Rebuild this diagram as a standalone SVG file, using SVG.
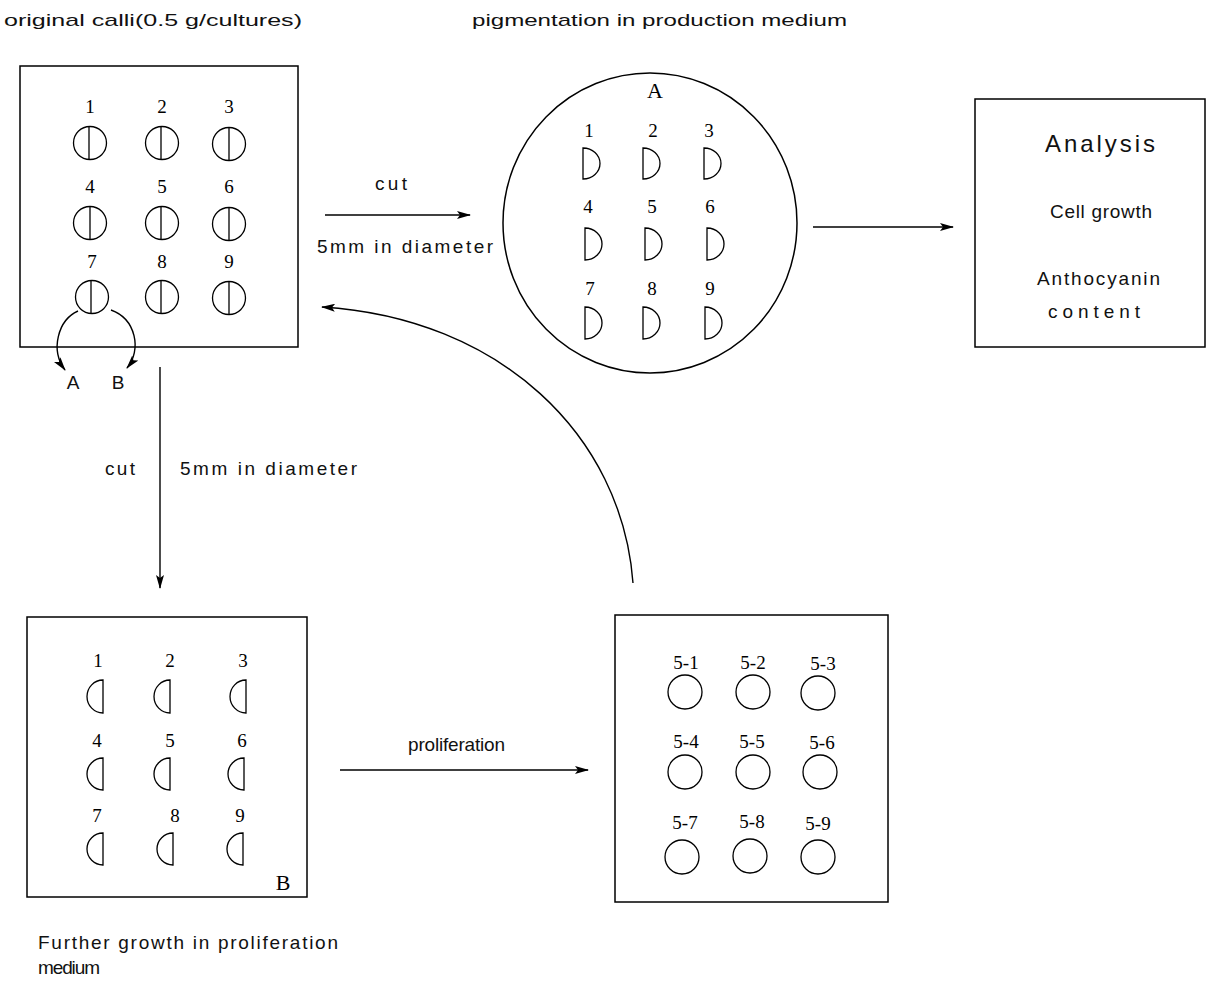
<svg xmlns="http://www.w3.org/2000/svg" width="1206" height="985" viewBox="0 0 1206 985">
<defs>
<marker id="ah" viewBox="0 0 14 8" refX="13" refY="4" markerWidth="14" markerHeight="8" markerUnits="userSpaceOnUse" orient="auto">
<path d="M0,0 L14,4 L0,8 L3,4 Z" fill="#000"/>
</marker>
<style>
.bx{fill:none;stroke:#000;stroke-width:1.5}
.ln{fill:none;stroke:#000;stroke-width:1.3}
.cn{fill:none;stroke:#000;stroke-width:1.4}
.num{font-family:"Liberation Serif",serif;font-size:19px;fill:#000;text-anchor:middle}
.big{font-family:"Liberation Serif",serif;font-size:22px;fill:#000;text-anchor:middle}
.lbl{font-family:"Liberation Sans","DejaVu Sans",sans-serif;font-size:19px;fill:#111}
.sm{font-family:"Liberation Sans","DejaVu Sans",sans-serif;font-size:17px;fill:#111}
.hd{font-family:"Liberation Sans","DejaVu Sans",sans-serif;font-size:24px;fill:#111}
</style>
</defs>
<rect width="1206" height="985" fill="#fff"/>

<text class="sm" x="4" y="26" textLength="298" lengthAdjust="spacingAndGlyphs">original  calli(0.5 g/cultures)</text>
<text class="sm" x="472" y="26" textLength="375" lengthAdjust="spacingAndGlyphs">pigmentation in production medium</text>

<g id="box-original">
<rect class="bx" x="20" y="66" width="278" height="281"/>
<text class="num" x="90" y="113">1</text><text class="num" x="162" y="113">2</text><text class="num" x="229" y="113">3</text>
<text class="num" x="90" y="193">4</text><text class="num" x="162" y="193">5</text><text class="num" x="229" y="193">6</text>
<text class="num" x="92" y="268">7</text><text class="num" x="162" y="268">8</text><text class="num" x="229" y="268">9</text>
<g class="ln">
<circle cx="90" cy="143" r="16.5"/><line x1="89" y1="126.5" x2="89" y2="159.5"/>
<circle cx="162" cy="143" r="16.5"/><line x1="161" y1="126.5" x2="161" y2="159.5"/>
<circle cx="229" cy="144" r="16.5"/><line x1="229" y1="127.5" x2="229" y2="160.5"/>
<circle cx="90" cy="223" r="16.5"/><line x1="90" y1="206.5" x2="90" y2="239.5"/>
<circle cx="162" cy="223" r="16.5"/><line x1="161" y1="206.5" x2="161" y2="239.5"/>
<circle cx="229" cy="224" r="16.5"/><line x1="229" y1="207.5" x2="229" y2="240.5"/>
<circle cx="92" cy="297" r="16.5"/><line x1="91" y1="280.5" x2="91" y2="313.5"/>
<circle cx="162" cy="297" r="16.5"/><line x1="161" y1="280.5" x2="161" y2="313.5"/>
<circle cx="229" cy="298" r="16.5"/><line x1="229" y1="281.5" x2="229" y2="314.5"/>
</g>
<text class="lbl" x="73" y="389" text-anchor="middle">A</text>
<text class="lbl" x="118" y="389" text-anchor="middle">B</text>
</g>

<g id="dish-A">
<ellipse class="bx" cx="650" cy="223" rx="147" ry="150"/>
<text class="big" x="655" y="98">A</text>
<text class="num" x="589" y="137">1</text><text class="num" x="653" y="137">2</text><text class="num" x="709" y="137">3</text>
<text class="num" x="588" y="213">4</text><text class="num" x="652" y="213">5</text><text class="num" x="710" y="213">6</text>
<text class="num" x="590" y="295">7</text><text class="num" x="652" y="295">8</text><text class="num" x="710" y="295">9</text>
<g class="ln">
<path d="M583,148 L583,179 A17,15.5 0 0 0 583,148 Z"/>
<path d="M643,148 L643,179 A17,15.5 0 0 0 643,148 Z"/>
<path d="M704,148 L704,179 A17,15.5 0 0 0 704,148 Z"/>
<path d="M585,228 L585,260 A17,16 0 0 0 585,228 Z"/>
<path d="M645,228 L645,260 A17,16 0 0 0 645,228 Z"/>
<path d="M707,228 L707,260 A17,16 0 0 0 707,228 Z"/>
<path d="M585,307 L585,339 A17,16 0 0 0 585,307 Z"/>
<path d="M643,307 L643,339 A17,16 0 0 0 643,307 Z"/>
<path d="M705,307 L705,339 A17,16 0 0 0 705,307 Z"/>
</g>
</g>

<g id="box-analysis">
<rect class="bx" x="975" y="99" width="230" height="248"/>
<text class="hd" x="1045" y="152" textLength="110" lengthAdjust="spacing">Analysis</text>
<text class="lbl" x="1050" y="218" textLength="102" lengthAdjust="spacing">Cell growth</text>
<text class="lbl" x="1037" y="285" textLength="123" lengthAdjust="spacing">Anthocyanin</text>
<text class="lbl" x="1048" y="318" textLength="92" lengthAdjust="spacing">content</text>
</g>

<g id="box-B">
<rect class="bx" x="27" y="617" width="280" height="280"/>
<text class="num" x="98" y="667">1</text><text class="num" x="170" y="667">2</text><text class="num" x="243" y="667">3</text>
<text class="num" x="97" y="747">4</text><text class="num" x="170" y="747">5</text><text class="num" x="242" y="747">6</text>
<text class="num" x="97" y="822">7</text><text class="num" x="175" y="822">8</text><text class="num" x="240" y="822">9</text>
<g class="ln">
<path d="M103,680 L103,713 A16,16.5 0 0 1 103,680 Z"/>
<path d="M170,680 L170,713 A16,16.5 0 0 1 170,680 Z"/>
<path d="M246,680 L246,713 A16,16.5 0 0 1 246,680 Z"/>
<path d="M103,758 L103,790 A16,16 0 0 1 103,758 Z"/>
<path d="M170,758 L170,790 A16,16 0 0 1 170,758 Z"/>
<path d="M244,758 L244,790 A16,16 0 0 1 244,758 Z"/>
<path d="M103,833 L103,865 A16,16 0 0 1 103,833 Z"/>
<path d="M173,833 L173,865 A16,16 0 0 1 173,833 Z"/>
<path d="M243,833 L243,865 A16,16 0 0 1 243,833 Z"/>
</g>
<text class="big" x="283" y="890">B</text>
</g>

<g id="box-5">
<rect class="bx" x="615" y="615" width="273" height="287"/>
<text class="num" x="686" y="669">5-1</text><text class="num" x="753" y="669">5-2</text><text class="num" x="823" y="670">5-3</text>
<text class="num" x="686" y="748">5-4</text><text class="num" x="752" y="748">5-5</text><text class="num" x="822" y="749">5-6</text>
<text class="num" x="685" y="829">5-7</text><text class="num" x="752" y="828">5-8</text><text class="num" x="818" y="830">5-9</text>
<g class="ln">
<circle cx="685" cy="692" r="17"/><circle cx="753" cy="692" r="17"/><circle cx="818" cy="693" r="17"/>
<circle cx="685" cy="772" r="17"/><circle cx="753" cy="772" r="17"/><circle cx="820" cy="772" r="17"/>
<circle cx="682" cy="857" r="17"/><circle cx="750" cy="856" r="17"/><circle cx="818" cy="857" r="17"/>
</g>
</g>

<g id="connectors">
<path class="cn" d="M325,215 L470,215" marker-end="url(#ah)"/>
<path class="cn" d="M813,227 L953,227" marker-end="url(#ah)"/>
<path class="cn" d="M160,367 L160,588" marker-end="url(#ah)"/>
<path class="cn" d="M340,770 L588,770" marker-end="url(#ah)"/>
<path class="cn" d="M633,583 C622,435 500,318 322,307" marker-end="url(#ah)"/>
<path class="cn" d="M78,311 C58,320 50,350 65,370" marker-end="url(#ah)"/>
<path class="cn" d="M111,310 C136,319 142,350 127,368" marker-end="url(#ah)"/>
</g>

<text class="lbl" x="375" y="190" textLength="32" lengthAdjust="spacing">cut</text>
<text class="lbl" x="317" y="253" textLength="176" lengthAdjust="spacing">5mm in diameter</text>
<text class="lbl" x="105" y="475" textLength="30" lengthAdjust="spacing">cut</text>
<text class="lbl" x="180" y="475" textLength="177" lengthAdjust="spacing">5mm in diameter</text>
<text class="lbl" x="408" y="751" textLength="97" lengthAdjust="spacing">proliferation</text>
<text class="lbl" x="38" y="949" textLength="300" lengthAdjust="spacing">Further growth in proliferation</text>
<text class="lbl" x="38" y="974" textLength="62" lengthAdjust="spacing">medium</text>
</svg>
